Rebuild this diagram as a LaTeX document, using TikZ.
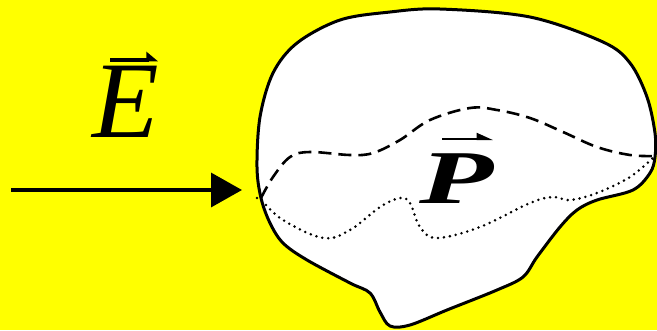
\documentclass[tikz,border=0pt]{standalone}
\usepackage{fontspec}
\setmainfont{Liberation Serif}
\usetikzlibrary{arrows.meta}
\definecolor{bgyellow}{RGB}{255,255,0}
\begin{document}
\begin{tikzpicture}[x=1pt,y=-1pt,
  outline/.style={line width=3pt, fill=white, line join=round},
  dashcurve/.style={line width=2.6pt, dash pattern=on 13pt off 7pt},
  dotcurve/.style={line width=2.8pt, line cap=round, dash pattern=on 0pt off 6pt},
  fieldarrow/.style={line width=3.5pt, -{Triangle[length=31pt,width=34pt]}},
  vecbarE/.style={line width=4.5pt, -{Triangle[harpoon,length=10pt,width=16pt]}},
  vecbarP/.style={line width=2pt, -{Triangle[harpoon,length=14pt,width=12pt]}},
  lbl/.style={inner sep=0pt, anchor=base}]
\fill[bgyellow] (0,0) rectangle (657,330);
\useasboundingbox (0,0) rectangle (657,330);
\draw[outline] plot[smooth cycle, tension=0.55] coordinates {
 (261,198) (257,167) (260,117) (273,73) (297,43) (340,20) (390,12) (440,9)
 (530,17) (603,42) (630,63) (647,97) (655,133) (655,157) (650,173) (633,190)
 (597,200) (577,210) (560,227) (537,257) (523,277) (497,290) (447,310)
 (410,325) (390,326) (380,312) (370,293) (350,283) (307,260) (283,243) (270,223)};
\coordinate (L) at (261,198);
\coordinate (R) at (655,156);
\draw[dashcurve] plot[smooth, tension=0.6] coordinates {
 (261,198) (273,177) (290,157) (310,152) (350,155) (373,153) (400,140)
 (430,120) (470,108) (497,110) (530,118) (563,132) (597,147) (630,155) (655,156)};
\draw[dotcurve] plot[smooth, tension=0.6] coordinates {
 (257,198) (261,200) (283,220) (323,238) (350,230) (380,207) (400,198)
 (410,203) (420,227) (437,238) (480,227) (530,203) (553,197) (570,200)
 (597,193) (630,177) (655,156)};
\coordinate (A0) at (11,190);
\coordinate (A1) at (242,190);
\draw[fieldarrow] (A0) -- (A1);
\node[lbl, font=\fontsize{109}{109}\selectfont\itshape] (E) at (126,137) {E};
\coordinate (E0) at (110,60);
\coordinate (E1) at (158,60);
\draw[vecbarE] (E0) -- (E1);
\node[lbl, xscale=1.6, font=\fontsize{76}{76}\selectfont\bfseries\itshape] (P) at (457,203) {P};
\coordinate (P0) at (442,139);
\coordinate (P1) at (493,139);
\draw[vecbarP] (P0) -- (P1);
\end{tikzpicture}
\end{document}
